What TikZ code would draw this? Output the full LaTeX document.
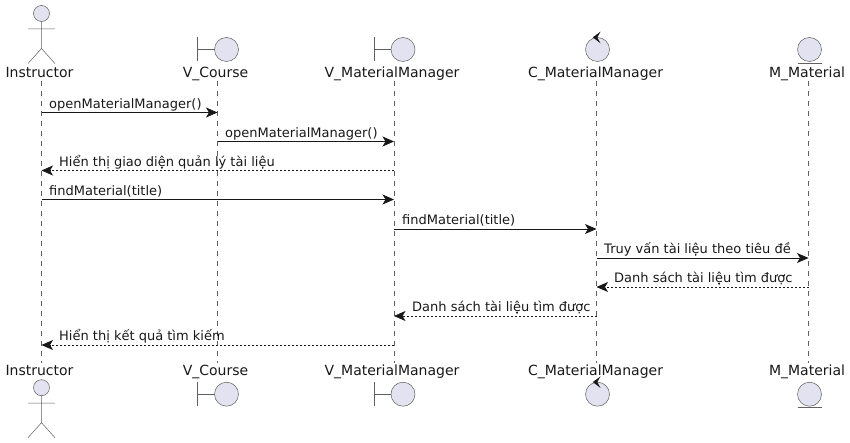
\documentclass[tikz,border=0pt]{standalone}
\usepackage{fontspec}
\setmainfont{DejaVu Sans}
\usetikzlibrary{arrows.meta}
\definecolor{umlfill}{HTML}{E2E2F0}
\definecolor{umlline}{HTML}{606060}
\definecolor{umlink}{HTML}{181818}
\tikzset{
  x=1pt,y=-1pt,
  partname/.style={font=\fontsize{14}{16}\selectfont,text=umlink,anchor=base,inner sep=0pt},
  msgtext/.style={font=\fontsize{13}{15}\selectfont,text=umlink,anchor=base west,inner sep=0pt},
  lifeline/.style={draw=umlline,line width=0.5pt,dash pattern=on 5pt off 5pt},
  glyph/.style={draw=umlline,line width=0.5pt},
  glyphfill/.style={draw=umlline,fill=umlfill,line width=0.5pt},
  callmsg/.style={draw=umlink,line width=0.75pt,-{Stealth[length=11.5pt,width=10pt,inset=3pt]}},
  retmsg/.style={draw=umlink,line width=0.75pt,dash pattern=on 2pt off 2pt,-{Stealth[length=11.5pt,width=10pt,inset=3pt]}},
  ctrlhead/.style={fill=umlink,draw=none},
}
\begin{document}
\begin{tikzpicture}
\useasboundingbox (0,0) rectangle (850,443);
% participant names
\node[partname] (tI) at (39.5,78) {Instructor};
\node[partname] (tV) at (215.5,78) {V\_Course};
\node[partname] (tM) at (392,78) {V\_MaterialManager};
\node[partname] (tC) at (595.5,78) {C\_MaterialManager};
\node[partname] (tE) at (807,78) {M\_Material};
\node[partname] (bI) at (39.5,375) {Instructor};
\node[partname] (bV) at (215.5,375) {V\_Course};
\node[partname] (bM) at (392,375) {V\_MaterialManager};
\node[partname] (bC) at (595.5,375) {C\_MaterialManager};
\node[partname] (bE) at (807,375) {M\_Material};
% lifelines
\coordinate (I0) at (41.5,81); \coordinate (I1) at (41.5,363);
\coordinate (V0) at (217.5,81); \coordinate (V1) at (217.5,363);
\coordinate (M0) at (394,81); \coordinate (M1) at (394,363);
\coordinate (C0) at (596.5,81); \coordinate (C1) at (596.5,363);
\coordinate (E0) at (808.5,81); \coordinate (E1) at (808.5,363);
\draw[lifeline] (I0) -- (I1);
\draw[lifeline] (V0) -- (V1);
\draw[lifeline] (M0) -- (M1);
\draw[lifeline] (C0) -- (C1);
\draw[lifeline] (E0) -- (E1);
% actors
\foreach \dy in {0,374.2}{
  \begin{scope}[yshift=-\dy pt]
  \draw[glyphfill] (41.5,13.5) circle[radius=8];
  \draw[glyph] (41.5,21.5) -- (41.5,48.5) (28,29) -- (55,29) (28,63.5) -- (41.5,48.5) -- (55,63.5);
  \end{scope}
}
% boundaries, controls, entities
\foreach \dy in {0,344.7}{
  \begin{scope}[yshift=-\dy pt]
  \draw[glyphfill] (226.5,49.5) circle[radius=12];
  \draw[glyph] (197.5,37.5) -- (197.5,61.5) (197.5,49.5) -- (214.5,49.5);
  \draw[glyphfill] (403,49.5) circle[radius=12];
  \draw[glyph] (374,37.5) -- (374,61.5) (374,49.5) -- (391,49.5);
  \draw[glyphfill] (597.5,49.5) circle[radius=12];
  \fill[ctrlhead] (592.8,37.3) -- (600.5,31.7) -- (597.3,37.5) -- (600.5,43.3) -- cycle;
  \draw[glyphfill] (809.5,49.5) circle[radius=12];
  \draw[glyph] (797.5,63) -- (821.5,63);
  \end{scope}
}
% messages
\draw[callmsg] (I0 |- 0,112.5) -- (V0 |- 0,112.5);
\node[msgtext] (m1) at (49,108.2) {openMaterialManager()};
\draw[callmsg] (V0 |- 0,141.5) -- (M0 |- 0,141.5);
\node[msgtext] (m2) at (225,137.2) {openMaterialManager()};
\draw[retmsg] (M0 |- 0,170.5) -- (I0 |- 0,170.5);
\node[msgtext] (m3) at (59,166.2) {Hiển thị giao diện quản lý tài liệu};
\draw[callmsg] (I0 |- 0,199.5) -- (M0 |- 0,199.5);
\node[msgtext] (m4) at (49,195.2) {findMaterial(title)};
\draw[callmsg] (M0 |- 0,229) -- (C0 |- 0,229);
\node[msgtext] (m5) at (402,224.7) {findMaterial(title)};
\draw[callmsg] (C0 |- 0,258) -- (E0 |- 0,258);
\node[msgtext] (m6) at (604,253.7) {Truy vấn tài liệu theo tiêu đề};
\draw[retmsg] (E0 |- 0,287) -- (C0 |- 0,287);
\node[msgtext] (m7) at (614,282.7) {Danh sách tài liệu tìm được};
\draw[retmsg] (C0 |- 0,316) -- (M0 |- 0,316);
\node[msgtext] (m8) at (412,311.7) {Danh sách tài liệu tìm được};
\draw[retmsg] (M0 |- 0,345) -- (I0 |- 0,345);
\node[msgtext] (m9) at (59,340.7) {Hiển thị kết quả tìm kiếm};
\end{tikzpicture}
\end{document}
